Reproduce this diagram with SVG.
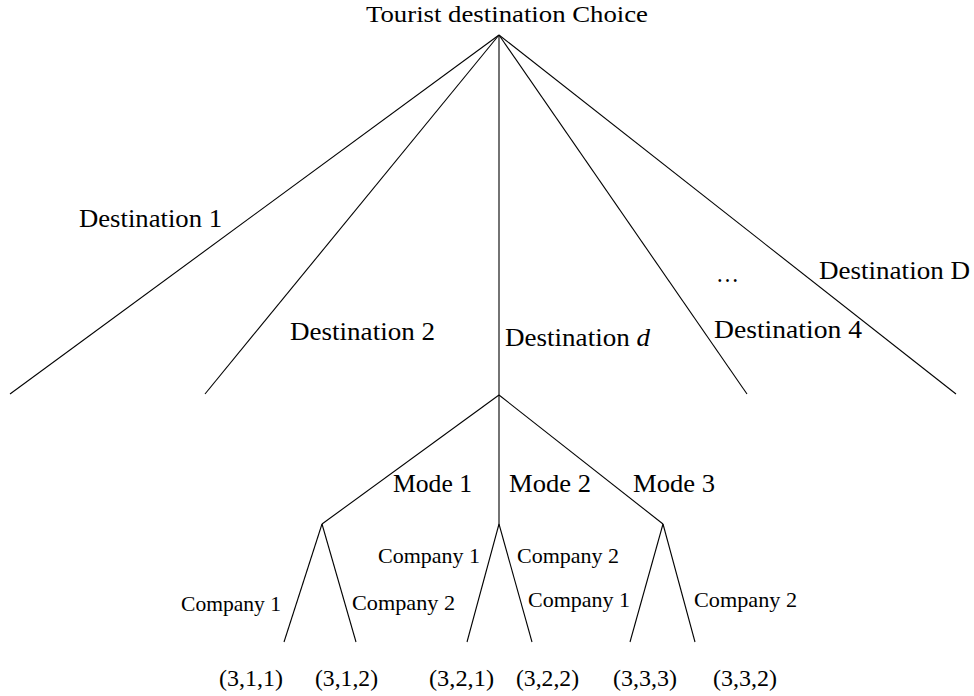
<svg xmlns="http://www.w3.org/2000/svg" width="974" height="696" viewBox="0 0 974 696">
<style>
  .bg { fill: #ffffff; }
  .edge { stroke: #000000; stroke-width: 1.1; fill: none; stroke-linecap: butt; }
  text { font-family: "Liberation Serif", "Times New Roman", serif; fill: #000000; }
  .title { font-size: 24px; }
  .big { font-size: 26px; }
  .mode { font-size: 25px; }
  .comp { font-size: 21px; }
  .tup { font-size: 24px; }
</style>
<rect class="bg" x="0" y="0" width="974" height="696"/>

<g id="connectors">
  <line class="edge" x1="499" y1="35" x2="10" y2="394"/>
  <line class="edge" x1="499" y1="35" x2="205" y2="394"/>
  <line class="edge" x1="499" y1="35" x2="499" y2="395"/>
  <line class="edge" x1="499" y1="35" x2="747" y2="394"/>
  <line class="edge" x1="499" y1="35" x2="956" y2="394"/>
  <line class="edge" x1="499" y1="395" x2="322" y2="524"/>
  <line class="edge" x1="499" y1="395" x2="499" y2="524"/>
  <line class="edge" x1="499" y1="395" x2="663" y2="524"/>
  <line class="edge" x1="322" y1="524" x2="284" y2="642"/>
  <line class="edge" x1="322" y1="524" x2="356" y2="642"/>
  <line class="edge" x1="499" y1="524" x2="467" y2="642"/>
  <line class="edge" x1="499" y1="524" x2="532" y2="642"/>
  <line class="edge" x1="663" y1="524" x2="630" y2="642"/>
  <line class="edge" x1="663" y1="524" x2="695" y2="642"/>
</g>

<g id="root">
  <text class="title" x="366" y="22" textLength="282" lengthAdjust="spacingAndGlyphs">Tourist destination Choice</text>
</g>

<g id="dest-labels">
  <g id="dest1"><text class="big" x="79" y="227" textLength="143" lengthAdjust="spacingAndGlyphs">Destination 1</text></g>
  <g id="dest2"><text class="big" x="290" y="340" textLength="145" lengthAdjust="spacingAndGlyphs">Destination 2</text></g>
  <g id="destd"><text class="big" x="505" y="346" textLength="145" lengthAdjust="spacingAndGlyphs">Destination <tspan font-style="italic">d</tspan></text></g>
  <g id="dest-ellipsis"><text class="big" x="716" y="282" textLength="23" lengthAdjust="spacingAndGlyphs">…</text></g>
  <g id="dest4"><text class="big" x="714" y="338" textLength="148" lengthAdjust="spacingAndGlyphs">Destination 4</text></g>
  <g id="destD"><text class="big" x="819" y="279" textLength="151" lengthAdjust="spacingAndGlyphs">Destination D</text></g>
</g>

<g id="mode-labels">
  <g id="mode1"><text class="mode" x="393" y="492" textLength="79" lengthAdjust="spacingAndGlyphs">Mode 1</text></g>
  <g id="mode2"><text class="mode" x="509" y="492" textLength="82" lengthAdjust="spacingAndGlyphs">Mode 2</text></g>
  <g id="mode3"><text class="mode" x="633" y="492" textLength="82" lengthAdjust="spacingAndGlyphs">Mode 3</text></g>
</g>

<g id="company-labels">
  <g id="m1c1"><text class="comp" x="181" y="611" textLength="100" lengthAdjust="spacingAndGlyphs">Company 1</text></g>
  <g id="m1c2"><text class="comp" x="352" y="610" textLength="103" lengthAdjust="spacingAndGlyphs">Company 2</text></g>
  <g id="m2c1"><text class="comp" x="378" y="563" textLength="102" lengthAdjust="spacingAndGlyphs">Company 1</text></g>
  <g id="m2c2"><text class="comp" x="517" y="563" textLength="102" lengthAdjust="spacingAndGlyphs">Company 2</text></g>
  <g id="m3c1"><text class="comp" x="528" y="607" textLength="102" lengthAdjust="spacingAndGlyphs">Company 1</text></g>
  <g id="m3c2"><text class="comp" x="694" y="607" textLength="103" lengthAdjust="spacingAndGlyphs">Company 2</text></g>
</g>

<g id="leaves">
  <g id="leaf311"><text class="tup" x="219" y="686" textLength="64" lengthAdjust="spacingAndGlyphs">(3,1,1)</text></g>
  <g id="leaf312"><text class="tup" x="315" y="686" textLength="63" lengthAdjust="spacingAndGlyphs">(3,1,2)</text></g>
  <g id="leaf321"><text class="tup" x="429" y="686" textLength="65" lengthAdjust="spacingAndGlyphs">(3,2,1)</text></g>
  <g id="leaf322"><text class="tup" x="516" y="686" textLength="63" lengthAdjust="spacingAndGlyphs">(3,2,2)</text></g>
  <g id="leaf333"><text class="tup" x="613" y="686" textLength="64" lengthAdjust="spacingAndGlyphs">(3,3,3)</text></g>
  <g id="leaf332"><text class="tup" x="713" y="686" textLength="64" lengthAdjust="spacingAndGlyphs">(3,3,2)</text></g>
</g>
</svg>
